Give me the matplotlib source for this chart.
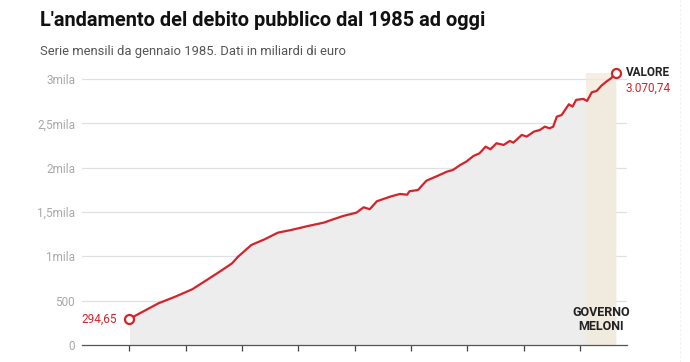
import matplotlib.pyplot as plt
from matplotlib.lines import Line2D

plt.rcParams['font.family'] = ['Roboto', 'DejaVu Sans']

# -----------------------------
# Data
# -----------------------------
anni = [1985.0, 1987.4, 1988.8, 1990.2, 1991.5, 1992.6, 1993.5, 1994.0, 1995.1,
        1996.2, 1997.3, 1998.4, 1999.8, 2001.1, 2001.9, 2002.7, 2003.8, 2004.4,
        2004.9, 2005.5, 2006.6, 2007.4, 2008.0, 2008.2, 2008.9, 2009.6, 2010.5,
        2011.3, 2011.8, 2012.4, 2012.9, 2013.5, 2014.0, 2014.5, 2014.9, 2015.4,
        2016.0, 2016.5, 2016.8, 2017.5, 2017.9, 2018.5, 2019.0, 2019.4, 2019.8,
        2020.1, 2020.4, 2020.8, 2021.4, 2021.7, 2022.0, 2022.6, 2022.9, 2023.3,
        2023.7, 2024.1, 2024.5, 2024.9, 2025.3]
debito = [294.65, 470, 545, 628, 741, 838, 921, 996, 1128,
          1192, 1267, 1297, 1342, 1380, 1418, 1455, 1492, 1553,
          1531, 1621, 1673, 1703, 1695, 1734, 1748, 1853, 1906,
          1955, 1974, 2030, 2068, 2132, 2162, 2237, 2207, 2275,
          2256, 2301, 2282, 2369, 2350, 2406, 2425, 2462, 2444,
          2462, 2575, 2594, 2715, 2688, 2764, 2775, 2752, 2850,
          2865, 2925, 2970, 3008, 3070.74]

y_ticks = [0, 500, 1000, 1500, 2000, 2500, 3000]
y_labels = ["0", "500", "1mila", "1,5mila", "2mila", "2,5mila", "3mila"]
x_ticks = [1985 + k * 4.665 for k in range(9)]
inizio_meloni = 2022.8

rosso = "#d3242b"

fig = plt.figure(figsize=(6.9, 3.62), dpi=100)
ax = fig.add_axes([0.1188, 0.047, 0.7895, 0.7522])

# area sotto la curva e fascia governo Meloni
ax.fill_between(anni, debito, 0, color="#ededed", linewidth=0, zorder=1)
ax.axvspan(inizio_meloni, anni[-1], color="#f3e9da", alpha=0.75, linewidth=0, zorder=1.5)

ax.plot(anni, debito, color=rosso, linewidth=1.6, zorder=3, solid_joinstyle="round",
        clip_on=False)
ax.plot([anni[0], anni[-1]], [debito[0], debito[-1]], linestyle="none", marker="o",
        markersize=6.5, markerfacecolor="white", markeredgecolor=rosso,
        markeredgewidth=1.6, zorder=4, clip_on=False)

ax.set_xlim(1981.07, 2026.19)
ax.set_ylim(0, 3070.74)

for v in y_ticks[1:]:
    ax.axhline(v, color="#dde1e4", linewidth=0.9, zorder=0.5)

ax.set_yticks(y_ticks)
ax.set_yticklabels(y_labels)
ax.set_xticks(x_ticks)
ax.set_xticklabels([])
ax.tick_params(axis="y", length=0, pad=5, labelsize=8.5, labelcolor="#a8a8a8")
ax.tick_params(axis="x", length=4, width=0.9, color="#444444", direction="out")

for s in ["top", "right", "left"]:
    ax.spines[s].set_visible(False)
ax.spines["bottom"].set_color("#555555")
ax.spines["bottom"].set_linewidth(0.9)
ax.spines["bottom"].set_zorder(5)

# etichette
ax.annotate("294,65", (anni[0], debito[0]), xytext=(-9, 0), textcoords="offset points",
            ha="right", va="center", color=rosso, fontsize=8.5)
ax.annotate("VALORE", (anni[-1], debito[-1]), xytext=(7, 0), textcoords="offset points",
            ha="left", va="center", color="#222222", fontsize=8.5, fontweight="bold")
ax.annotate("3.070,74", (anni[-1], debito[-1]), xytext=(7, -11), textcoords="offset points",
            ha="left", va="center", color=rosso, fontsize=8.5)
ax.text((inizio_meloni + anni[-1]) / 2 + 0.05, 285, "GOVERNO\nMELONI", ha="center", va="center",
        color="#222222", fontsize=9, fontweight="bold", linespacing=1.05, zorder=6)

fig.text(40 / 690, 1 - 20 / 362, "L'andamento del debito pubblico dal 1985 ad oggi",
         fontsize=14.4, fontweight="bold", color="#111111", va="center", ha="left")
fig.text(40 / 690, 1 - 51 / 362, "Serie mensili da gennaio 1985. Dati in miliardi di euro",
         fontsize=9.4, color="#555555", va="center", ha="left")

# linea di bordo a destra
fig.add_artist(Line2D([680 / 690, 680 / 690], [0, 1], color="#eef0f2", linewidth=0.8,
                      linestyle=(0, (2, 2))))

fig.savefig("out.png", dpi=100)
